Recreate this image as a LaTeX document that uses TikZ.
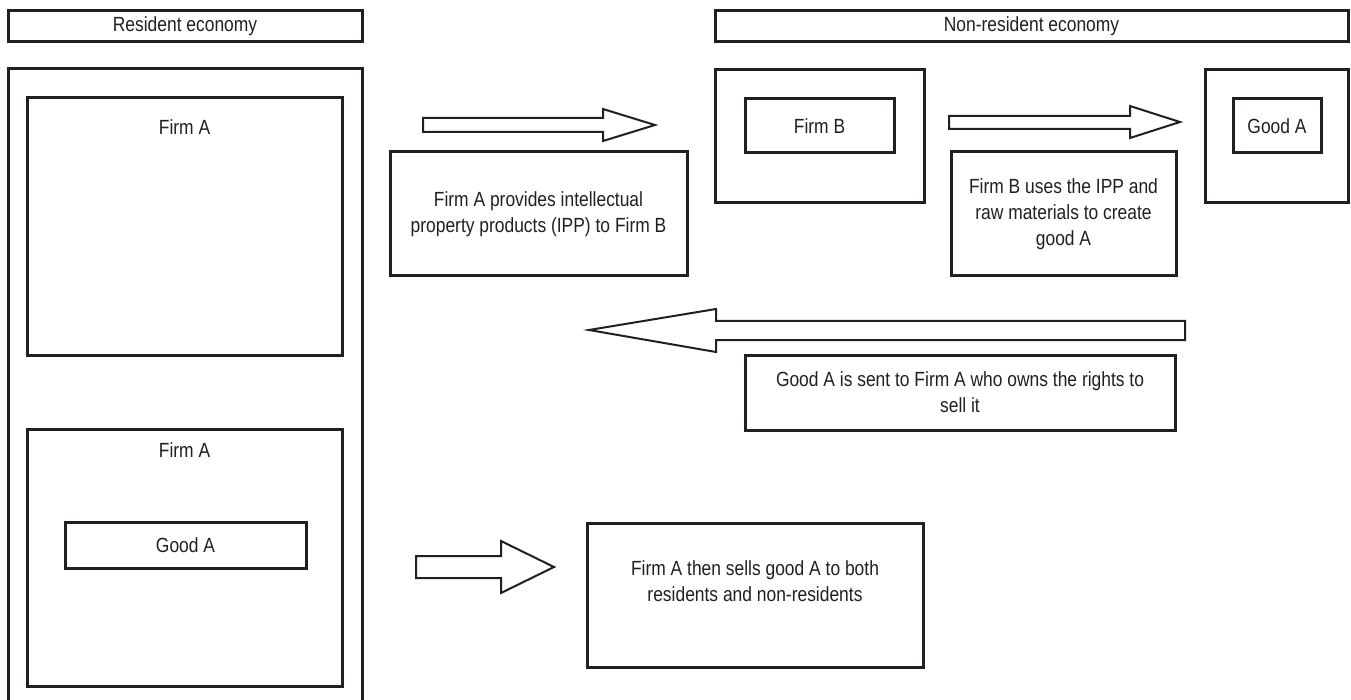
\documentclass[tikz,border=0pt]{standalone}
\usepackage{fontspec}
\setmainfont{Liberation Sans}[FakeStretch=0.85]
\definecolor{ink}{HTML}{231F20}
\begin{document}
\begin{tikzpicture}[x=1pt,y=-1pt,
  box/.style={draw=ink,line width=3pt,inner sep=0pt},
  lbl/.style={text=ink,align=center,inner sep=0pt,font=\fontsize{20.5}{26}\selectfont},
  blockarr/.style={draw=ink,line width=2pt,fill=white,line join=miter}]
\useasboundingbox (0,0) rectangle (1351,700);
\clip (0,0) rectangle (1351,700);
% headers
\node[box,minimum width=354pt,minimum height=31pt] (reshdr) at (185,26.5) {};
\node[lbl] at (reshdr.center) {Resident economy};
\node[box,minimum width=633pt,minimum height=31pt] (nonhdr) at (1031.5,26.5) {};
\node[lbl] at (nonhdr.center) {Non-resident economy};
% resident economy
\node[box,minimum width=354pt,minimum height=651pt] (resout) at (185,394.5) {};
\node[box,minimum width=315pt,minimum height=257pt] (firmA1) at (184.5,226.5) {};
\node[lbl] (firmA1t) at (184.5,127) {Firm A};
\node[box,minimum width=315pt,minimum height=257pt] (firmA2) at (184.5,557.5) {};
\node[lbl] (firmA2t) at (184.5,450) {Firm A};
\node[box,minimum width=241pt,minimum height=46pt] (goodA1) at (185.5,545) {};
\node[lbl] at (goodA1.center) {Good A};
% explanation boxes
\node[box,minimum width=297pt,minimum height=124pt] (txt1) at (538.5,214) {};
\node[lbl] at (txt1.center) {Firm A provides intellectual\\property products (IPP) to Firm B};
\node[box,minimum width=225pt,minimum height=124pt] (txt2) at (1063.5,214) {};
\node[lbl] at (txt2.center) {Firm B uses the IPP and\\raw materials to create\\good A};
\node[box,minimum width=430pt,minimum height=75pt] (txt3) at (960,392.5) {};
\node[lbl] at (txt3.center) {Good A is sent to Firm A who owns the rights to\\sell it};
\node[box,minimum width=336pt,minimum height=144pt] (txt4) at (755,595) {};
\node[lbl] at (755,581) {Firm A then sells good A to both\\residents and non-residents};
% non-resident economy
\node[box,minimum width=209pt,minimum height=133pt] (firmBout) at (819.5,136.5) {};
\node[box,minimum width=149pt,minimum height=54pt] (firmB) at (819.5,126) {};
\node[lbl] at (firmB.center) {Firm B};
\node[box,minimum width=143pt,minimum height=133pt] (goodAout) at (1276.5,136.5) {};
\node[box,minimum width=88pt,minimum height=54pt] (goodA2) at (1277,126) {};
\node[lbl] at (goodA2.center) {Good A};
% block arrows
\draw[blockarr] (423,118) -- (603,118) -- (603,109) -- (655,125) -- (603,141) -- (603,132) -- (423,132) -- cycle;
\draw[blockarr] (949,116) -- (1130,116) -- (1130,106) -- (1180,122) -- (1130,138) -- (1130,129) -- (949,129) -- cycle;
\draw[blockarr] (1185,321) -- (716,321) -- (716,309) -- (589,330) -- (716,352) -- (716,340) -- (1185,340) -- cycle;
\draw[blockarr] (416,556) -- (501,556) -- (501,541) -- (554,567) -- (501,593) -- (501,578) -- (416,578) -- cycle;
\end{tikzpicture}
\end{document}
